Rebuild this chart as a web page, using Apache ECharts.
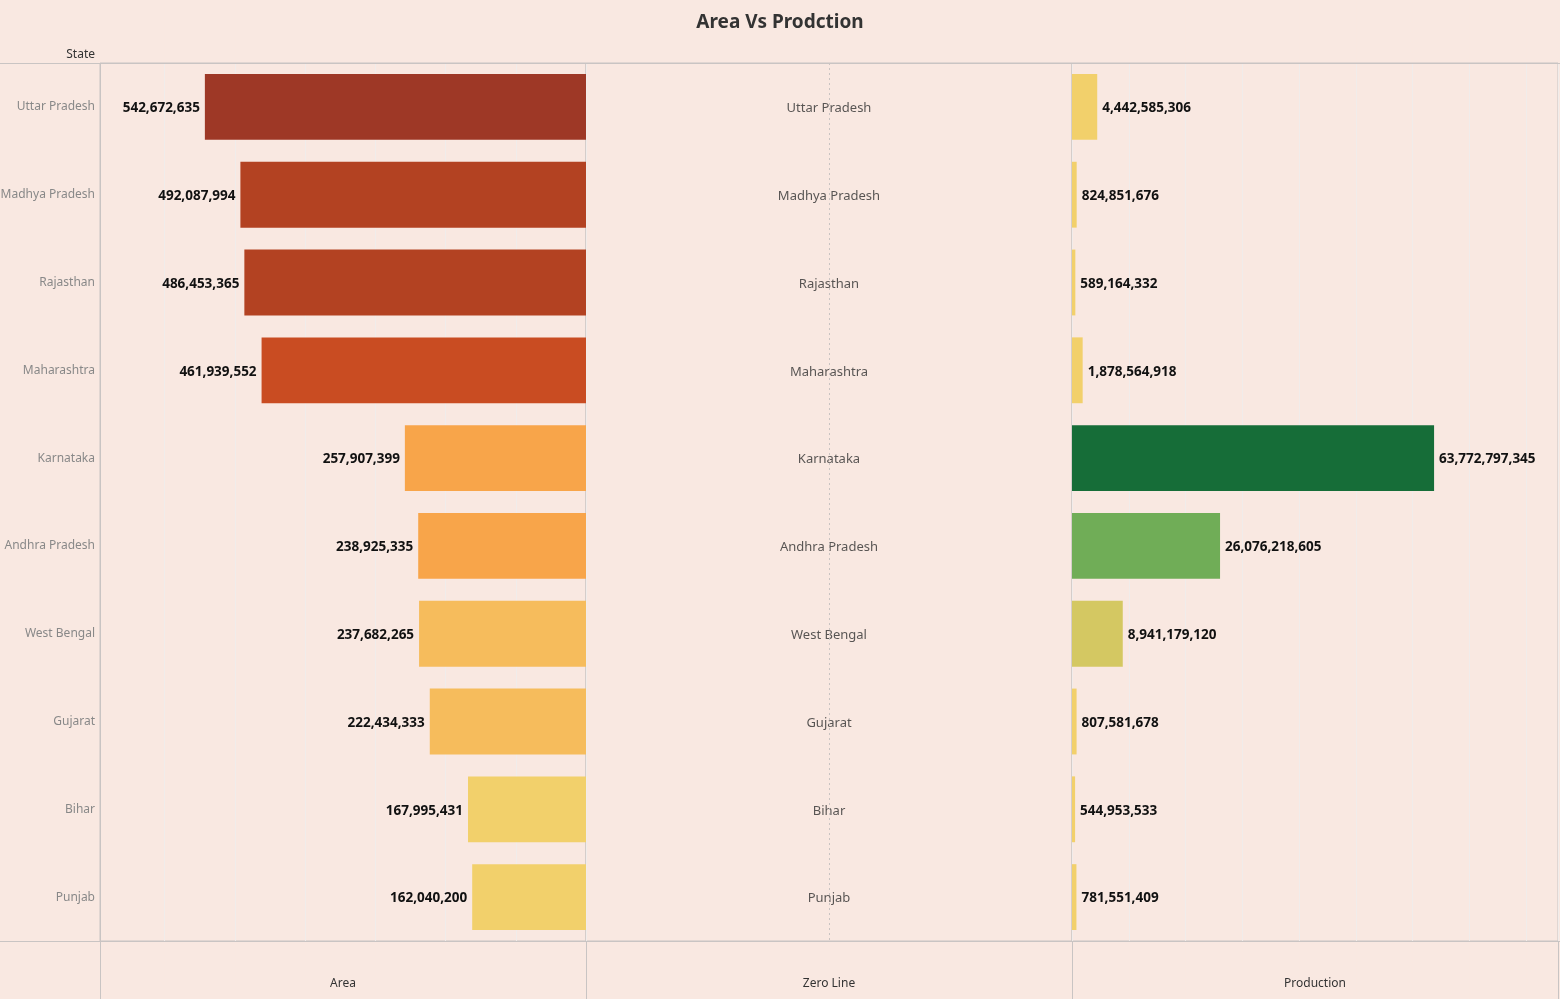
<!DOCTYPE html>
<html>
<head>
<meta charset="utf-8">
<script src="https://cdn.jsdelivr.net/npm/echarts@6/dist/echarts.min.js"></script>
<style>
html,body{margin:0;padding:0;background:#F9E8E1;}
#chart{width:1560px;height:999px;}
</style>
</head>
<body>
<div id="chart"></div>
<script>
const states = ['Uttar Pradesh','Madhya Pradesh','Rajasthan','Maharashtra','Karnataka','Andhra Pradesh','West Bengal','Gujarat','Bihar','Punjab'];
const areaValues = [542672635, 492087994, 486453365, 461939552, 257907399, 238925335, 237682265, 222434333, 167995431, 162040200];
const productionValues = [4442585306, 824851676, 589164332, 1878564918, 63772797345, 26076218605, 8941179120, 807581678, 544953533, 781551409];
const areaColors = ['#9E3826','#B34222','#B34222','#C94C22','#F8A54A','#F8A54A','#F6BC5C','#F6BC5C','#F2D06B','#F2D06B'];
const productionColors = ['#F2D06B','#F2D06B','#F2D06B','#F2D06B','#166D38','#70AD57','#D4C862','#F2D06B','#F2D06B','#F2D06B'];
const panelTitles = ['Area','Zero Line','Production'];

const fmt = v => v.toLocaleString('en-US');
const FONT = '"Noto Sans", "Open Sans", sans-serif';
const chart = echarts.init(document.getElementById('chart'), null, {renderer:'canvas'});

const gridCommon = {top:63, height:878, show:true, borderColor:'#C9C4C3', borderWidth:1, containLabel:false, outerBoundsMode:'none'};
const splitLine = {show:true, lineStyle:{color:'#F1ECEA', width:1}};
const labelStyle = {show:true, color:'#111', fontWeight:'bold', fontSize:13.5, fontFamily:FONT, distance:5, offset:[0,1.5]};
const nameStyle = {color:'#333', fontSize:12, fontFamily:FONT};

const option = {
  backgroundColor:'#F9E8E1',
  animation:false,
  title:{text:'Area Vs Prodction', left:'center', top:8, textStyle:{fontSize:19, fontWeight:'bold', color:'#333', fontFamily:FONT}},
  grid:[
    Object.assign({left:100, width:486}, gridCommon),
    Object.assign({left:586, width:486}, gridCommon),
    Object.assign({left:1072, width:486}, gridCommon)
  ],
  xAxis:[
    {gridIndex:0, type:'value', inverse:true, min:0, max:692e6, interval:1e8,
     axisLabel:{show:false}, axisTick:{show:false}, axisLine:{show:false}, splitLine:splitLine,
     name:panelTitles[0], nameLocation:'middle', nameGap:37, nameTextStyle:nameStyle},
    {gridIndex:1, type:'value', min:-1, max:1,
     axisLabel:{show:false}, axisTick:{show:false}, axisLine:{show:false}, splitLine:{show:false},
     name:panelTitles[1], nameLocation:'middle', nameGap:37, nameTextStyle:nameStyle},
    {gridIndex:2, type:'value', min:0, max:85.6e9, interval:1e10,
     axisLabel:{show:false}, axisTick:{show:false}, axisLine:{show:false}, splitLine:splitLine,
     name:panelTitles[2], nameLocation:'middle', nameGap:37, nameTextStyle:nameStyle}
  ],
  yAxis:[
    {gridIndex:0, type:'category', data:states, inverse:true,
     axisLine:{show:false}, axisTick:{show:false},
     axisLabel:{color:'#888', fontSize:12, fontFamily:FONT, margin:5, padding:[4,0,0,0]}},
    {gridIndex:1, type:'category', data:states, inverse:true,
     axisLine:{show:false}, axisTick:{show:false}, axisLabel:{show:false}},
    {gridIndex:2, type:'category', data:states, inverse:true,
     axisLine:{show:false}, axisTick:{show:false}, axisLabel:{show:false}}
  ],
  series:[
    {type:'bar', xAxisIndex:0, yAxisIndex:0, barCategoryGap:'25%',
     data:areaValues.map((v,i)=>({value:v, itemStyle:{color:areaColors[i]}})),
     label:Object.assign({position:'left', formatter:p=>fmt(p.value)}, labelStyle)},
    {type:'scatter', xAxisIndex:1, yAxisIndex:1, symbolSize:0,
     data:states.map(s=>[0,s]),
     label:{show:true, position:'inside', formatter:p=>p.value[1], color:'#2F2F2F', fontSize:13, fontFamily:FONT, offset:[0,1.5]},
     markLine:{silent:true, symbol:'none', label:{show:false},
       lineStyle:{color:'#C9C3C2', type:[2,3], width:1},
       data:[{xAxis:0}]}},
    {type:'bar', xAxisIndex:2, yAxisIndex:2, barCategoryGap:'25%',
     data:productionValues.map((v,i)=>({value:v, itemStyle:{color:productionColors[i]}})),
     label:Object.assign({position:'right', formatter:p=>fmt(p.value)}, labelStyle)}
  ],
  graphic:[
    {type:'line', shape:{x1:0,y1:63.5,x2:1560,y2:63.5}, style:{stroke:'#C9C4C3', lineWidth:1}, z:100},
    {type:'line', shape:{x1:0,y1:941.5,x2:1560,y2:941.5}, style:{stroke:'#C9C4C3', lineWidth:1}, z:100},
    {type:'line', shape:{x1:100.5,y1:63,x2:100.5,y2:999}, style:{stroke:'#C9C4C3', lineWidth:1}, z:100},
    {type:'line', shape:{x1:586.5,y1:941,x2:586.5,y2:999}, style:{stroke:'#C9C4C3', lineWidth:1}, z:100},
    {type:'line', shape:{x1:1072.5,y1:941,x2:1072.5,y2:999}, style:{stroke:'#C9C4C3', lineWidth:1}, z:100},
    {type:'line', shape:{x1:1558.5,y1:941,x2:1558.5,y2:999}, style:{stroke:'#C9C4C3', lineWidth:1}, z:100},
    {type:'text', right:1560-95, top:49, style:{text:'State', fill:'#333', font:'12px "Noto Sans", sans-serif', textAlign:'right'}}
  ]
};
chart.setOption(option);
</script>
</body>
</html>
